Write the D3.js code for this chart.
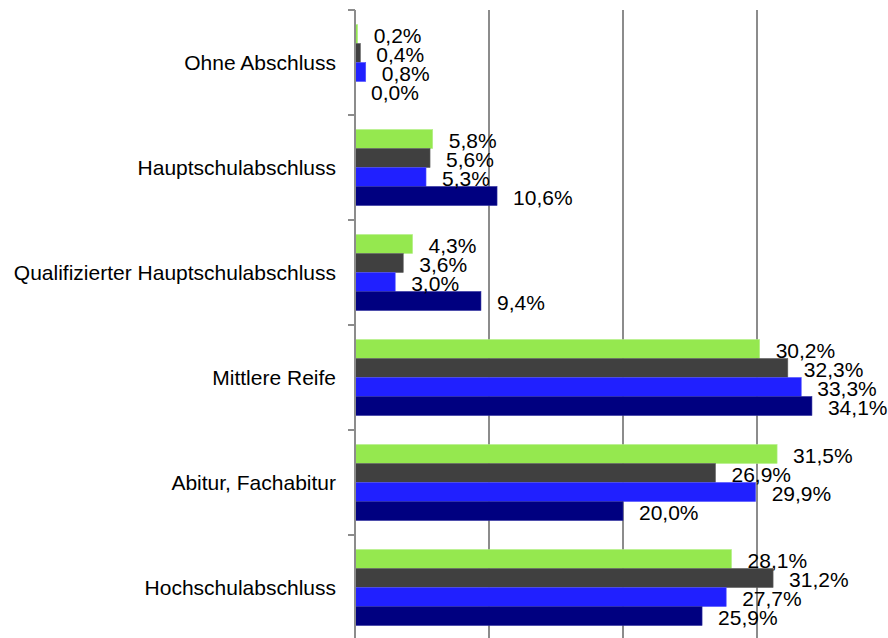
<!DOCTYPE html>
<html><head><meta charset="utf-8">
<script src="https://cdn.jsdelivr.net/npm/d3@7"></script>
<style>body{margin:0;background:#fff}svg{display:block}text{font-family:"Liberation Sans",Arial,sans-serif;fill:#000}</style>
</head><body>
<svg id="c" width="888" height="638"></svg>
<script>
const categories = ["Ohne Abschluss","Hauptschulabschluss","Qualifizierter Hauptschulabschluss","Mittlere Reife","Abitur, Fachabitur","Hochschulabschluss"];
const seriesNames = ["S1","S2","S3","S4"];
const seriesColors = ["#95e84f","#404040","#2020ff","#000080"];
const seriesStroke = ["#b5f08a","#606060","#5050ff","#3030a0"];
const s1 = [0.2,5.8,4.3,30.2,31.5,28.1];
const s2 = [0.4,5.6,3.6,32.3,26.9,31.2];
const s3 = [0.8,5.3,3.0,33.3,29.9,27.7];
const s4 = [0.0,10.6,9.4,34.1,20.0,25.9];
const series = [s1,s2,s3,s4];
const xTicks = [0,10,20,30,40];

const svg = d3.select("#c");
const mLeft = 355, mTop = 10, mBottom = 640;
const x = d3.scaleLinear().domain([0,40]).range([mLeft, mLeft + 536]);
const y = d3.scaleBand().domain(categories).range([mTop, mBottom]);
const inner = d3.scaleBand().domain(seriesNames).range([0, 76]);
const fmt = v => v.toFixed(1).replace(".", ",") + "%";

// gridlines
svg.append("g").selectAll("line").data(xTicks.slice(1)).join("line")
  .attr("x1", d => x(d)).attr("x2", d => x(d)).attr("y1", mTop).attr("y2", mBottom)
  .attr("stroke", "#8c8c8c").attr("stroke-width", 2);

// bars
categories.forEach((cat, ci) => {
  const g0 = y(cat) + (y.bandwidth() - 76) / 2;
  series.forEach((s, si) => {
    const yy = g0 + inner(seriesNames[si]);
    svg.append("rect").attr("x", x(0)).attr("y", yy)
      .attr("width", x(s[ci]) - x(0)).attr("height", inner.bandwidth())
      .attr("fill", seriesColors[si]).attr("stroke", seriesStroke[si]).attr("stroke-width", 0.6);
  });
});

// axis line and ticks
svg.append("line").attr("x1", mLeft).attr("x2", mLeft).attr("y1", mTop).attr("y2", mBottom)
  .attr("stroke", "#8c8c8c").attr("stroke-width", 2);
const bounds = categories.map(c => y(c)).concat([mBottom]);
svg.append("g").selectAll("line").data(bounds).join("line")
  .attr("x1", mLeft - 7).attr("x2", mLeft).attr("y1", d => d).attr("y2", d => d)
  .attr("stroke", "#8c8c8c").attr("stroke-width", 2);

// category labels
svg.append("g").selectAll("text").data(categories).join("text")
  .attr("x", 336).attr("y", d => y(d) + y.bandwidth() / 2)
  .attr("text-anchor", "end").attr("dominant-baseline", "central")
  .attr("font-size", "21px").text(d => d);

// value labels
categories.forEach((cat, ci) => {
  const g0 = y(cat) + (y.bandwidth() - 76) / 2;
  series.forEach((s, si) => {
    const yy = g0 + inner(seriesNames[si]) + inner.bandwidth() / 2;
    svg.append("text").attr("x", x(s[ci]) + 16).attr("y", yy + 1)
      .attr("dominant-baseline", "central").attr("font-size", "21px").text(fmt(s[ci]));
  });
});
</script>
</body></html>
